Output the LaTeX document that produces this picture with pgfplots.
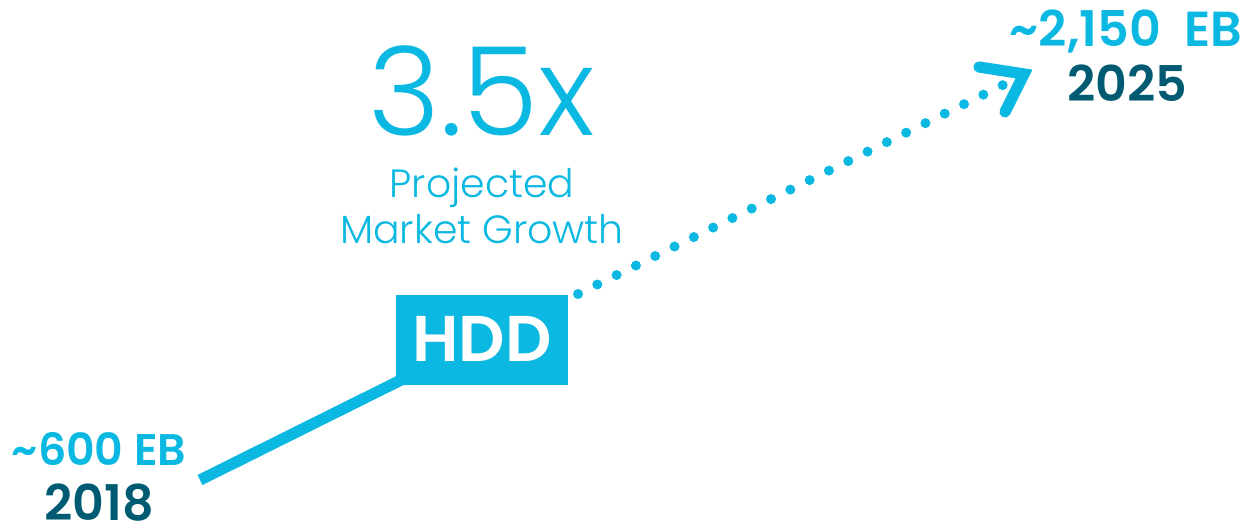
\documentclass[border=0pt]{standalone}
\usepackage{fontspec}
\setmainfont{Poppins}
\newfontfamily\poplight{Poppins}[UprightFont=* Light]
\newfontfamily\popsemi{Poppins}[UprightFont=* SemiBold]
\usepackage{pgfplots}
\pgfplotsset{compat=1.18}
\definecolor{hddcyan}{HTML}{0BB8E1}
\definecolor{hddteal}{HTML}{005B72}
\begin{document}
\begin{tikzpicture}
\begin{axis}[at={(0,0)}, anchor=south west, scale only axis,
  width=12.48cm, height=5.28cm, xmin=0, xmax=1248, ymin=0, ymax=528,
  y dir=reverse, hide axis, clip=false,
  every node/.append style={inner sep=0pt}]
% HDD box
\addplot[fill=hddcyan, draw=none] coordinates {(396,295) (568,295) (568,385) (396,385)} --cycle;
% solid 2018 segment
\addplot[hddcyan, line width=3.2pt, line cap=butt] coordinates {(200,480) (407,377)};
% dotted projection
\addplot[hddcyan, line width=2.85pt, line cap=round, dash pattern=on 0pt off 6.12pt] coordinates {(578,294) (1003,85)};
% arrow head
\addplot[hddcyan, line width=3.2pt, line cap=round, line join=miter] coordinates {(979,67) (1024,74) (1005,112)};
\node[anchor=base, text=white, font=\popsemi\fontsize{18.4}{22}\selectfont] at (axis cs:482,361) {HDD};
\node[anchor=base, text=hddcyan, font=\poplight\fontsize{35}{40}\selectfont] at (axis cs:482,135) {3.5x};
\node[anchor=base, text=hddcyan, font=\poplight\fontsize{11.2}{14}\selectfont] at (axis cs:482,197) {Projected};
\node[anchor=base, text=hddcyan, font=\poplight\fontsize{11.2}{14}\selectfont] at (axis cs:482,243) {Market Growth};
\node[anchor=base, text=hddcyan, font=\popsemi\fontsize{12.6}{14}\selectfont] at (axis cs:99,465) {\textasciitilde600 EB};
\node[anchor=base, text=hddteal, font=\popsemi\fontsize{14}{16}\selectfont] at (axis cs:99,520) {2018};
\node[anchor=base, text=hddcyan, font=\popsemi\fontsize{14}{16}\selectfont] at (axis cs:1126,47) {\textasciitilde2,150\ \ EB};
\node[anchor=base, text=hddteal, font=\popsemi\fontsize{14}{16}\selectfont] at (axis cs:1127,102) {2025};
\end{axis}
\pgfresetboundingbox
\useasboundingbox (0,0) rectangle (12.48cm,5.28cm);
\end{tikzpicture}
\end{document}
